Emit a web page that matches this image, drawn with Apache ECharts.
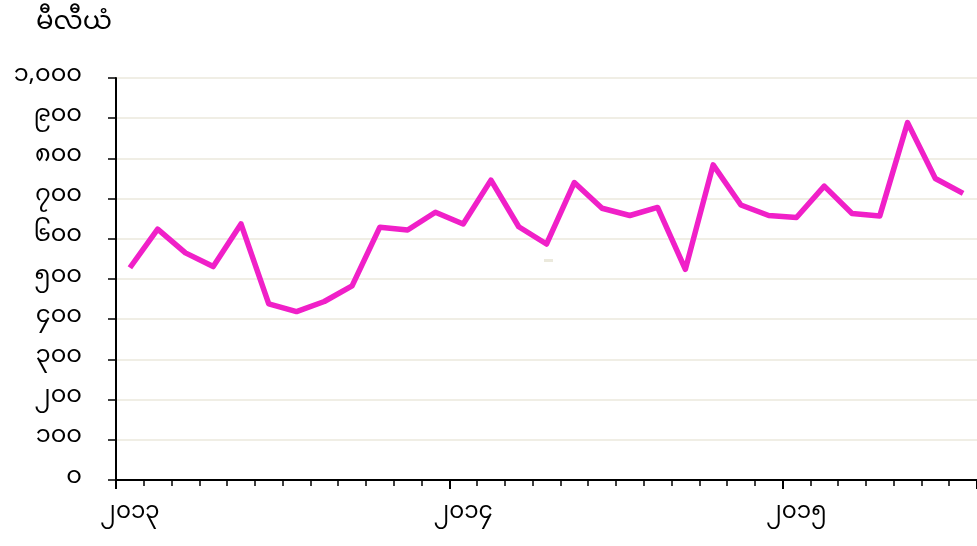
<!DOCTYPE html>
<html>
<head>
<meta charset="utf-8">
<script src="https://cdn.jsdelivr.net/npm/echarts@6/dist/echarts.min.js"></script>
<style>html,body{margin:0;padding:0;background:#fff}#c{width:977px;height:546px}</style>
</head>
<body>
<div id="c"></div>
<script>
var titleText = 'မီလီယံ';
var months = ['2013-01','2013-02','2013-03','2013-04','2013-05','2013-06','2013-07','2013-08','2013-09','2013-10','2013-11','2013-12',
  '2014-01','2014-02','2014-03','2014-04','2014-05','2014-06','2014-07','2014-08','2014-09','2014-10','2014-11','2014-12',
  '2015-01','2015-02','2015-03','2015-04','2015-05','2015-06','2015-07'];
var values = [528,624,565,531,637,438,419,444,483,629,622,666,637,746,630,587,740,676,658,678,524,784,684,658,653,731,663,657,889,750,713];
var yTicks = [0,100,200,300,400,500,600,700,800,900,1000];

var mmDigits = ['၀','၁','၂','၃','၄','၅','၆','၇','၈','၉'];
function toMM(s){ return String(s).replace(/[0-9]/g, function(d){ return mmDigits[+d]; }); }
function fmtNum(v){ return toMM(String(v).replace(/\B(?=(\d{3})+(?!\d))/g, ',')); }

var FONT = '"Noto Sans Myanmar","Padauk","Myanmar Text","Noto Sans",sans-serif';
var chart = echarts.init(document.getElementById('c'));
chart.setOption({
  animation: false,
  title: { text: titleText, left: 31, top: 8, textStyle: { fontFamily: FONT, fontSize: 26, fontWeight: 'normal', color: '#000' } },
  grid: { left: 116, right: -4, top: 78, bottom: 66, containLabel: false },
  xAxis: [{
    type: 'category', data: months, boundaryGap: true,
    axisLine: { lineStyle: { color: '#000', width: 2 } },
    axisTick: { show: true, interval: 0, length: 6, lineStyle: { color: '#000', width: 1.5 } },
    axisLabel: { interval: function(i){ return i % 12 === 0; }, formatter: function(v){ return toMM(v.slice(0,4)); },
      margin: 24, fontFamily: FONT, fontSize: 23, color: '#000' },
    splitLine: { show: false }
  },{
    type: 'category', data: months, boundaryGap: true, position: 'bottom',
    axisLine: { show: false },
    axisTick: { show: true, interval: function(i){ return i % 12 === 0; }, length: 9, lineStyle: { color: '#000', width: 2 } },
    axisLabel: { show: false }, splitLine: { show: false }
  }],
  yAxis: {
    type: 'value', min: 0, max: 1000, interval: 100,
    axisLine: { show: true, lineStyle: { color: '#000', width: 2 } },
    axisTick: { show: true, length: 8, lineStyle: { color: '#000', width: 1.5 } },
    axisLabel: { margin: 34, fontFamily: FONT, fontSize: 24, color: '#000',
      customValues: yTicks, formatter: function(v){ return fmtNum(v); } },
    splitLine: { show: true, lineStyle: { color: '#ebe9dc', width: 1.5 } }
  },
  series: [{
    type: 'line', data: values, xAxisIndex: 0, showSymbol: false, symbol: 'none',
    lineStyle: { color: '#f020c8', width: 5.5, join: 'round' }, z: 3
  }],
  graphic: [{ type: 'rect', shape: { x: 544, y: 259, width: 9, height: 3 }, style: { fill: '#ebe9dc' } }]
});
</script>
</body>
</html>
